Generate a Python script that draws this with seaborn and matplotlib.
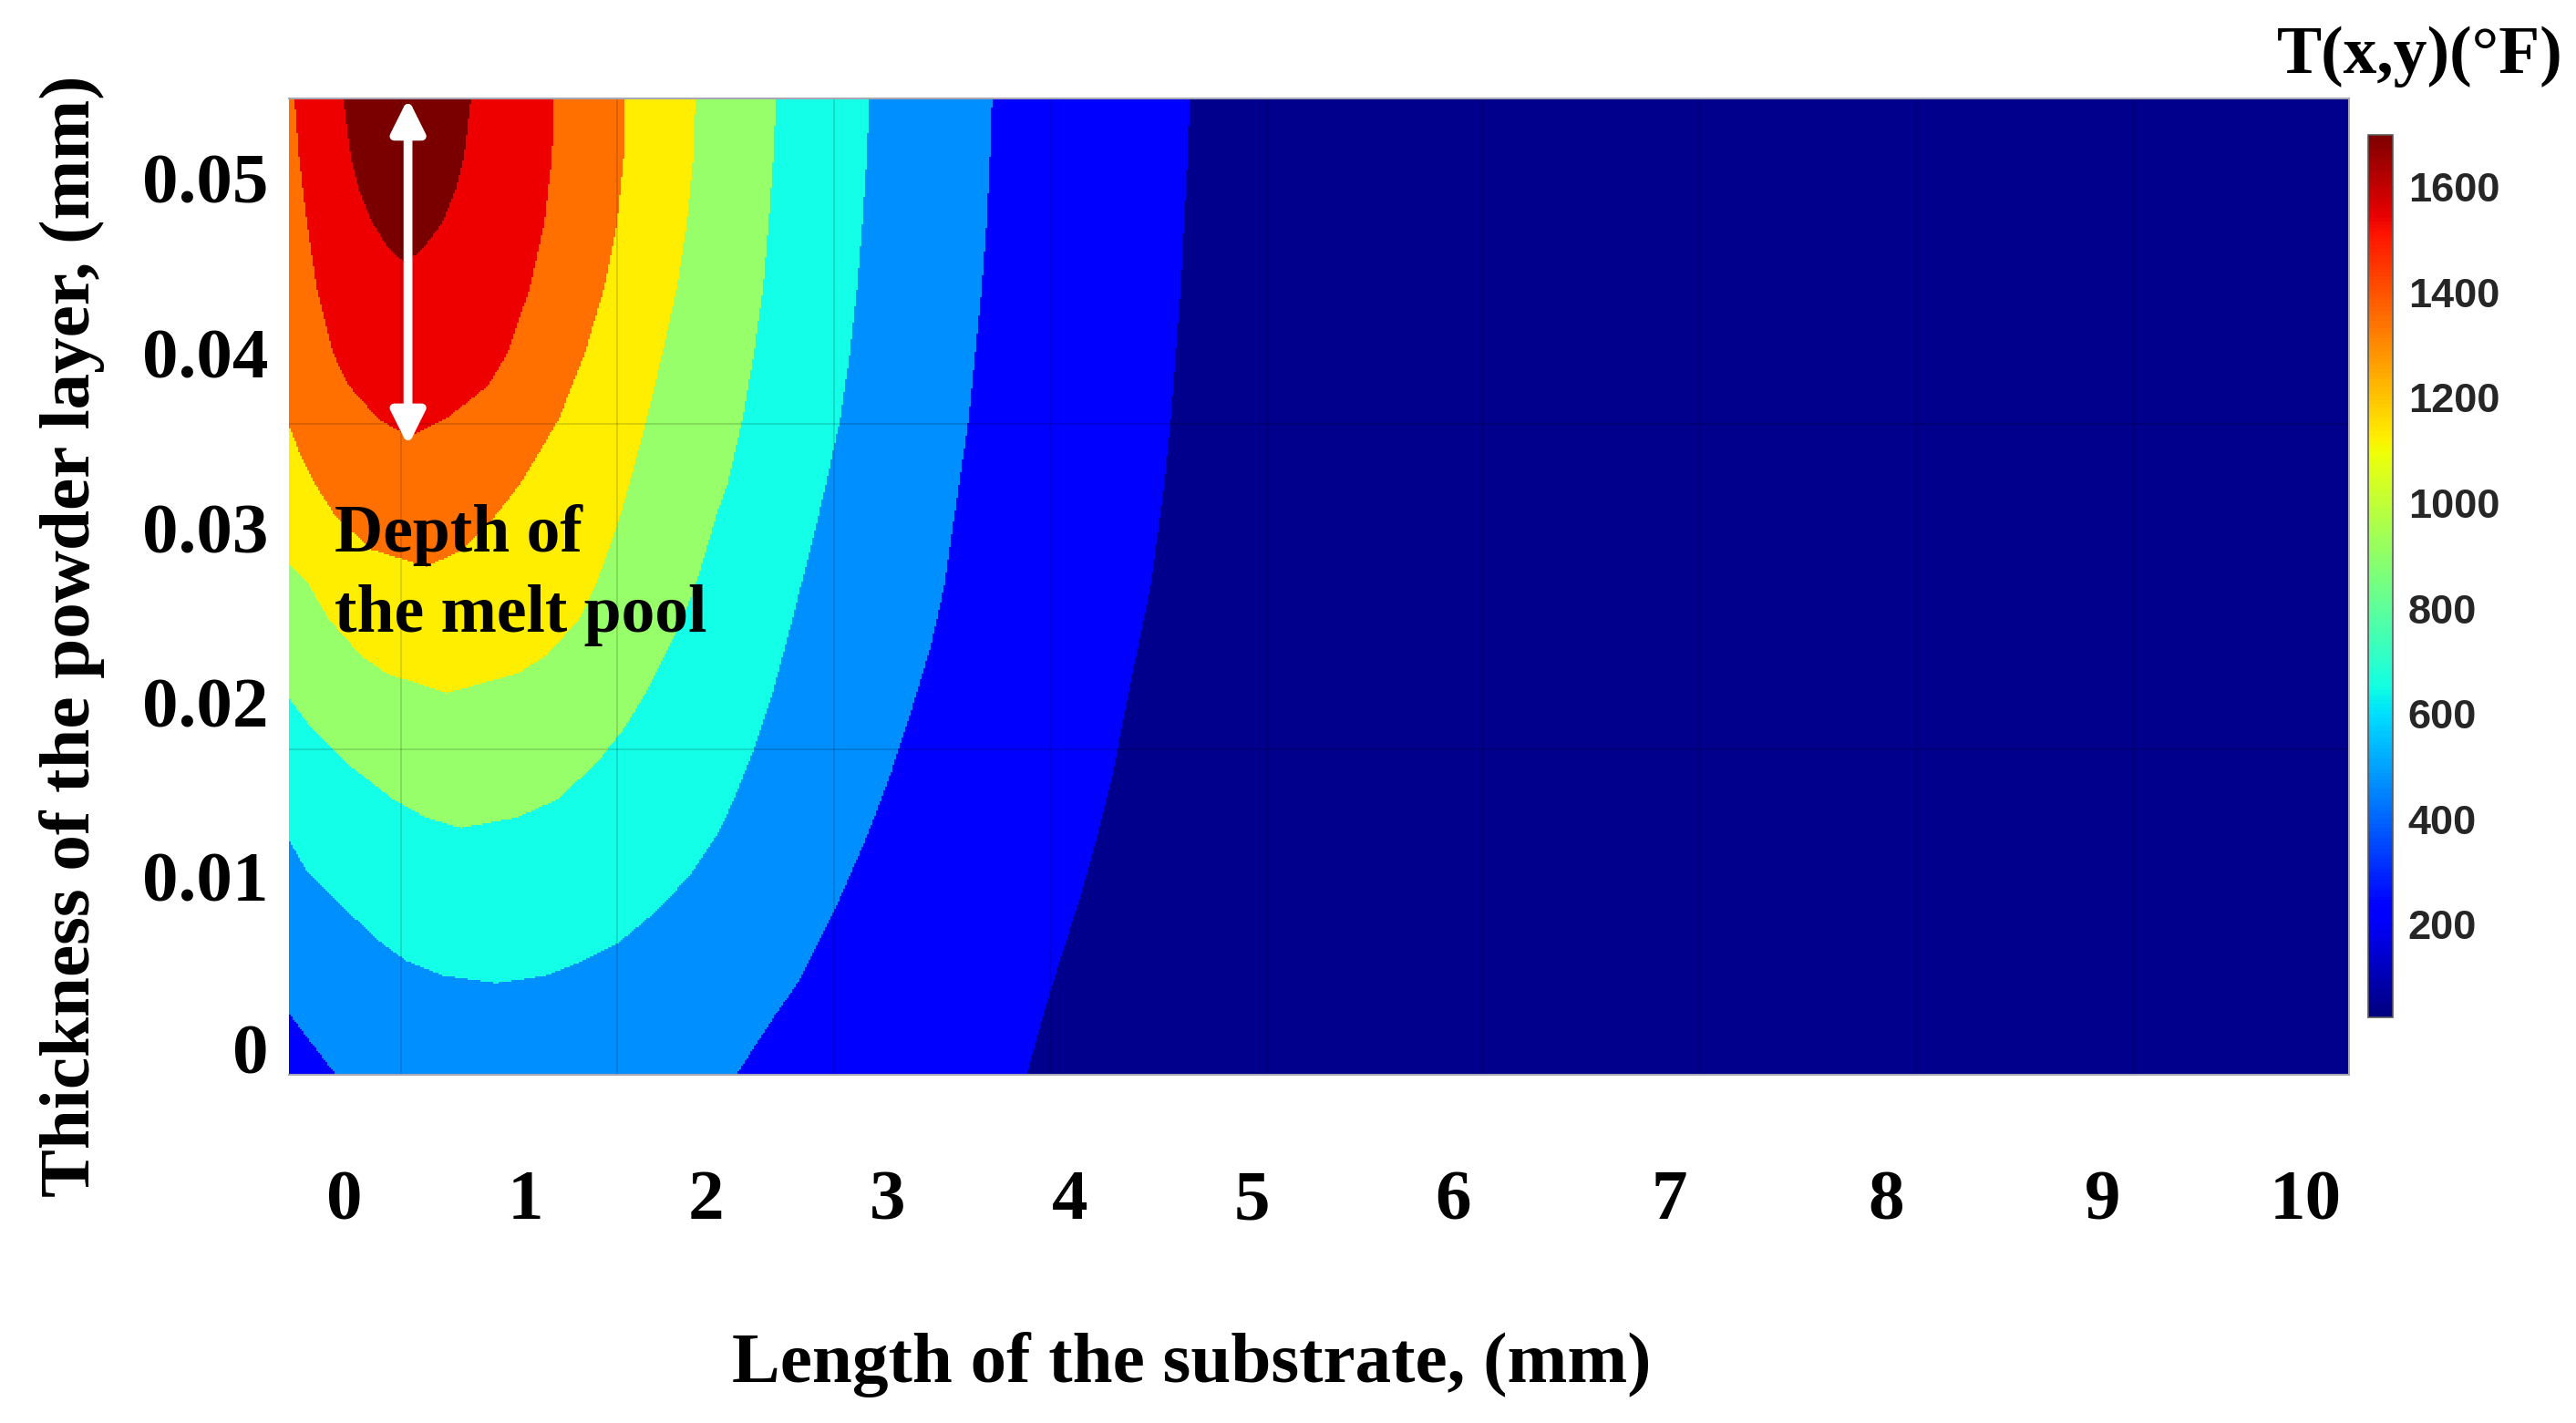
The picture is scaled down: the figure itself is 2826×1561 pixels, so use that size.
import numpy as np
import matplotlib
matplotlib.use("Agg")
import matplotlib.pyplot as plt
import matplotlib.cm as cm
import seaborn as sns
from matplotlib.path import Path
from matplotlib.colors import ListedColormap, Normalize

# plotted window, in units of the (unlabelled) grid steps of the original figure
x_lo, x_hi = -0.516, 9.0
y_lo, y_hi = 0.0, 3.0

# isotherm outlines, outermost first.
# each outline runs from its left end (top or left edge) round the bottom up to the top edge
iso_blue_x = [-0.516, 2.891, 2.956, 3.044, 3.138, 3.218, 3.29, 3.345, 3.405, 3.465, 3.526, 3.556, 3.579, 3.602, 3.617, 3.635, 3.644]
iso_blue_y = [0.0, 0.0, 0.159, 0.352, 0.545, 0.738, 0.931, 1.123, 1.316, 1.509, 1.814, 2.015, 2.217, 2.418, 2.619, 2.821, 3.0]

iso_azure_x = [-0.516, -0.30, 1.55, 1.729, 1.845, 1.927, 2.03, 2.157, 2.266, 2.36, 2.448, 2.513, 2.579, 2.624, 2.654, 2.684, 2.707, 2.722, 2.732]
iso_azure_y = [0.188, 0.0, 0.0, 0.183, 0.293, 0.404, 0.545, 0.738, 0.931, 1.123, 1.316, 1.509, 1.814, 2.015, 2.217, 2.418, 2.619, 2.821, 3.0]

iso_cyan_x = [-0.516, -0.432, -0.267, -0.086, 0.03, 0.195, 0.442, 0.673, 0.838, 1.003, 1.201, 1.35, 1.46, 1.54, 1.63,
              1.72, 1.81, 1.895, 1.965, 2.03, 2.075, 2.108, 2.133, 2.153, 2.165]
iso_cyan_y = [0.72, 0.626, 0.515, 0.404, 0.349, 0.305, 0.282, 0.305, 0.349, 0.404, 0.515, 0.626, 0.736, 0.847, 1.0,
              1.179, 1.401, 1.621, 1.814, 2.015, 2.217, 2.418, 2.619, 2.821, 3.0]

iso_green_x = [-0.516, -0.416, -0.251, -0.036, 0.112, 0.277, 0.541, 0.723, 0.904, 1.036, 1.135, 1.218, 1.30, 1.366,
               1.416, 1.465, 1.51, 1.579, 1.632, 1.674, 1.70, 1.722, 1.734]
iso_green_y = [1.157, 1.069, 0.958, 0.847, 0.792, 0.759, 0.792, 0.847, 0.958, 1.069, 1.179, 1.29, 1.401, 1.512,
               1.622, 1.733, 1.814, 2.015, 2.217, 2.418, 2.619, 2.821, 3.0]

iso_yellow_x = [-0.516, -0.432, -0.333, -0.185, -0.069, 0.211, 0.541, 0.673, 0.822, 0.904, 0.965, 1.02, 1.056, 1.136,
                1.209, 1.275, 1.322, 1.352, 1.36]
iso_yellow_y = [1.567, 1.512, 1.401, 1.29, 1.235, 1.174, 1.235, 1.29, 1.401, 1.512, 1.622, 1.733, 1.814, 2.015,
                2.217, 2.418, 2.619, 2.821, 3.0]

iso_orange_x = [-0.516, -0.47, -0.396, -0.299, -0.134, 0.12, 0.284, 0.433, 0.552, 0.642, 0.731, 0.851, 0.940, 1.0, 1.030, 1.037]
iso_orange_y = [1.995, 1.914, 1.814, 1.713, 1.612, 1.56, 1.612, 1.713, 1.814, 1.914, 2.015, 2.217, 2.418, 2.619, 2.821, 3.0]

iso_red_x = [-0.49, -0.47, -0.433, -0.388, -0.313, -0.239, -0.104, 0.037, 0.209, 0.403, 0.493, 0.597, 0.664, 0.699, 0.709]
iso_red_y = [3.0, 2.821, 2.619, 2.418, 2.217, 2.116, 2.015, 1.960, 2.015, 2.116, 2.217, 2.418, 2.619, 2.821, 3.0]

iso_darkred_x = [-0.266, -0.231, -0.194, -0.134, -0.06, 0.022, 0.104, 0.194, 0.254, 0.293, 0.325]
iso_darkred_y = [3.0, 2.821, 2.72, 2.62, 2.54, 2.493, 2.54, 2.62, 2.72, 2.821, 3.0]

# fill colour of each temperature band, coldest first
band_colors = ["#00008C", "#0000FF", "#008FFF", "#14FFE8", "#96FF69",
               "#FFEE00", "#FF7000", "#EE0000", "#7A0000"]

# colour bar
t_min, t_max = 24, 1699
cbar_ticks = [200, 400, 600, 800, 1000, 1200, 1400, 1600]

# tick labels as printed on the figure, and where they sit
x_tick_pos = [-0.261, 0.577, 1.41, 2.25, 3.09, 3.93, 4.86, 5.86, 6.86, 7.86, 8.80]
x_tick_labels = ["0", "1", "2", "3", "4", "5", "6", "7", "8", "9", "10"]
y_tick_pos = [0.081, 0.608, 1.143, 1.678, 2.218, 2.756]
y_tick_labels = ["0", "0.01", "0.02", "0.03", "0.04", "0.05"]
grid_x = [0, 1, 2, 3, 4, 5, 6, 7, 8]
grid_y = [1, 2]

# melt pool depth arrow and its note
arrow_x = 0.034
arrow_top, arrow_tip = 3.0, 1.933
note_x = -0.307
note_lines = ["Depth of", "the melt pool"]
note_y = [1.608, 1.361]

# ---- band field on a fine raster ----
ncols, nrows = 1130, 535
xc = x_lo + (np.arange(ncols) + 0.5) * (x_hi - x_lo) / ncols
yc = y_hi - (np.arange(nrows) + 0.5) * (y_hi - y_lo) / nrows
XX, YY = np.meshgrid(xc, yc)
pts = np.column_stack([XX.ravel(), YY.ravel()])

outlines = [
    (iso_blue_x, iso_blue_y),
    (iso_azure_x, iso_azure_y),
    (iso_cyan_x, iso_cyan_y),
    (iso_green_x, iso_green_y),
    (iso_yellow_x, iso_yellow_y),
    (iso_orange_x, iso_orange_y),
    (iso_red_x, iso_red_y),
    (iso_darkred_x, iso_darkred_y),
]
band = np.zeros(XX.size, dtype=int)
for k, (bx, by) in enumerate(outlines, start=1):
    # close each outline through a point beyond the top-left corner
    verts = [(x_lo - 1, y_hi + 1)] + list(zip(bx, by))
    band[Path(verts).contains_points(pts)] = k
band = band.reshape(nrows, ncols)


def col(x):
    return (x - x_lo) / (x_hi - x_lo) * ncols


def row(y):
    return (y_hi - y) / (y_hi - y_lo) * nrows


# ---- plot ----
sns.set_theme(style="white")
plt.rcParams["font.family"] = ["Liberation Serif", "DejaVu Serif"]
plt.rcParams["font.weight"] = "bold"
plt.rcParams["text.color"] = "black"
plt.rcParams["axes.labelcolor"] = "black"

fig = plt.figure(figsize=(28.26, 15.61), dpi=100)
ax = fig.add_axes([0.11217, 0.24472, 0.79972, 0.6861])

sns.heatmap(band, ax=ax, cmap=ListedColormap(band_colors),
            vmin=-0.5, vmax=len(band_colors) - 0.5,
            cbar=False, xticklabels=False, yticklabels=False, rasterized=True)

# faint grid on top of the field
for gx in grid_x:
    ax.axvline(col(gx), color="black", alpha=0.18, lw=1.1)
for gy in grid_y:
    ax.axhline(row(gy), color="black", alpha=0.18, lw=1.1)

# grid ticks (inside), printed labels separately as major ticks
ax.set_xticks([col(v) for v in grid_x], minor=True)
ax.set_yticks([row(v) for v in grid_y], minor=True)
ax.tick_params(which="minor", direction="in", length=13.5, width=1.1, color="#333333",
               bottom=True, top=True, left=False, right=True)
ax.set_xticks([col(v) for v in x_tick_pos])
ax.set_xticklabels(x_tick_labels, fontsize=57, fontweight="bold", rotation=0)
ax.set_yticks([row(v) for v in y_tick_pos])
ax.set_yticklabels(y_tick_labels, fontsize=57, fontweight="bold", rotation=0)
ax.tick_params(which="major", length=0, colors="black")
ax.tick_params(axis="x", which="major", pad=75)
ax.tick_params(axis="y", which="major", pad=16)

for side in ["top", "bottom", "right"]:
    ax.spines[side].set_visible(True)
    ax.spines[side].set_color("#a8a8b4")
    ax.spines[side].set_linewidth(1.5)
ax.spines["left"].set_visible(False)

ax.set_xlabel("Length of the substrate, (mm)", fontsize=57, fontweight="bold",
              ha="left", va="baseline", color="black")
ax.xaxis.set_label_coords(0.2150, -0.3147)
ax.set_ylabel("Thickness of the powder layer, (mm)", fontsize=57, fontweight="bold",
              color="black")
ax.yaxis.set_label_coords(-0.0894, 0.449)

# melt pool depth
ax.annotate("", xy=(col(arrow_x), row(arrow_tip)), xytext=(col(arrow_x), row(arrow_top)),
            arrowprops=dict(arrowstyle="<|-|>,head_length=1.0,head_width=0.5",
                            mutation_scale=22, color="white", lw=7,
                            shrinkA=0, shrinkB=0))
for line, ly in zip(note_lines, note_y):
    ax.text(col(note_x), row(ly), line, fontsize=53, fontweight="bold",
            ha="left", va="baseline", color="black")

# colour bar
cax = fig.add_axes([0.91932, 0.28507, 0.00955, 0.62012])
sm = cm.ScalarMappable(norm=Normalize(t_min, t_max), cmap="jet")
cb = fig.colorbar(sm, cax=cax, ticks=cbar_ticks)
cb.outline.set_edgecolor("#5a5a5a")
cb.outline.set_linewidth(1.2)
cax.tick_params(direction="in", length=6, width=1, color="#333333",
                labelcolor="#262626", pad=12, right=True, left=False)
for t in cax.get_yticklabels():
    t.set_fontfamily("Liberation Sans")
    t.set_fontweight("bold")
    t.set_fontsize(32.5)

fig.text(0.8839, 0.9488, "T(x,y)(°F)", fontsize=53, fontweight="bold",
         ha="left", va="baseline", color="black")

fig.savefig("out.png", dpi=100, facecolor="white")
